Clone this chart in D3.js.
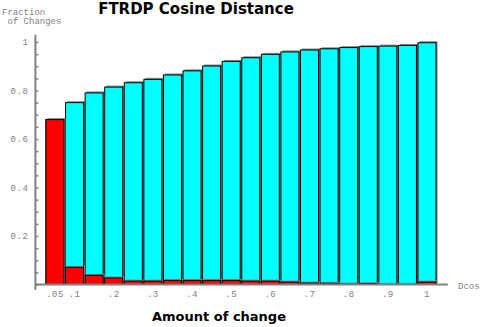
<!DOCTYPE html>
<html>
<head>
<meta charset="utf-8">
<script src="https://cdn.jsdelivr.net/npm/d3@7"></script>
<style>
  html, body { margin: 0; padding: 0; background: #fff; }
  svg { display: block; }
</style>
</head>
<body>
<svg id="chart"></svg>
<script>
// Data
const bins = [0.05, 0.10, 0.15, 0.20, 0.25, 0.30, 0.35, 0.40, 0.45, 0.50,
              0.55, 0.60, 0.65, 0.70, 0.75, 0.80, 0.85, 0.90, 0.95, 1.00]
const cumulative = [0.68, 0.75, 0.79, 0.814, 0.832, 0.846, 0.864, 0.881, 0.901, 0.92,
                    0.935, 0.949, 0.959, 0.967, 0.972, 0.977, 0.981, 0.983, 0.986, 0.997]
const perBin = [0.68, 0.071, 0.038, 0.027, 0.014, 0.014, 0.017, 0.017, 0.017, 0.017,
                0.014, 0.014, 0.010, 0.006, 0.005, 0.002, 0.004, 0.001, 0.001, 0.010]
const xTicks = [0.05, 0.1, 0.2, 0.3, 0.4, 0.5, 0.6, 0.7, 0.8, 0.9, 1]
const xTickLabels = [".05", ".1", ".2", ".3", ".4", ".5", ".6", ".7", ".8", ".9", "1"]
const yTicks = [0.2, 0.4, 0.6, 0.8, 1]
const yTickLabels = ["0.2", "0.4", "0.6", "0.8", "1"]

const width = 480
const height = 327
const mono = "'Liberation Mono', 'DejaVu Sans Mono', monospace"
const sans = "'DejaVu Sans', sans-serif"
const axisGrey = "#808080"

const svg = d3.select("#chart")
  .attr("width", width)
  .attr("height", height)

const x = d3.scaleLinear().domain([0, 1]).range([35.4, 427])
const y = d3.scaleLinear().domain([0, 1]).range([284.5, 42])
const barW = x(0.046) - x(0)

const rows = bins.map((b, i) => ({ bin: b, total: cumulative[i], part: perBin[i] }))

// Bars: grey shadow behind, cyan cumulative, red per-bin on top
function drawBars(key, fill) {
  const g = svg.append("g")
  g.selectAll("rect.shadow")
    .data(rows)
    .join("rect")
    .attr("class", "shadow")
    .attr("x", d => x(d.bin) - barW / 2 + 1.5)
    .attr("y", d => y(d[key]) - 1.5)
    .attr("width", barW)
    .attr("height", d => y(0) - y(d[key]))
    .attr("fill", "#8a8a8a")
  g.selectAll("rect.bar")
    .data(rows)
    .join("rect")
    .attr("class", "bar")
    .attr("x", d => x(d.bin) - barW / 2)
    .attr("y", d => y(d[key]))
    .attr("width", barW)
    .attr("height", d => y(0) - y(d[key]))
    .attr("fill", fill)
    .attr("stroke", "#000")
    .attr("stroke-width", 1)
}
drawBars("total", "#00ffff")
drawBars("part", "#ff0000")

// Y axis
const yAxis = svg.append("g")
  .attr("transform", `translate(${x(0)}, 0)`)
  .call(d3.axisRight(y)
    .tickValues(d3.range(0, 1.001, 0.05))
    .tickSize(3)
    .tickFormat(""))
yAxis.select(".domain").remove()
yAxis.selectAll(".tick line").attr("stroke", axisGrey).attr("stroke-width", 1.5)
yAxis.append("line")
  .attr("y1", y(1.03)).attr("y2", y(-0.022))
  .attr("stroke", axisGrey).attr("stroke-width", 2)

svg.append("g")
  .selectAll("text")
  .data(yTicks)
  .join("text")
  .attr("x", x(0) - 7)
  .attr("y", d => y(d) + 3)
  .attr("text-anchor", "end")
  .attr("font-family", mono)
  .attr("font-size", 9)
  .attr("letter-spacing", 0.6)
  .attr("fill", axisGrey)
  .text((d, i) => yTickLabels[i])

// X axis
svg.append("line")
  .attr("x1", x(0)).attr("x2", x(1.053))
  .attr("y1", y(0)).attr("y2", y(0))
  .attr("stroke", axisGrey).attr("stroke-width", 2)

svg.append("g")
  .selectAll("text")
  .data(xTicks)
  .join("text")
  .attr("x", d => x(d))
  .attr("y", y(0) + 12.5)
  .attr("text-anchor", "middle")
  .attr("font-family", mono)
  .attr("font-size", 9)
  .attr("letter-spacing", 0.5)
  .attr("fill", axisGrey)
  .text((d, i) => xTickLabels[i])

svg.append("text")
  .attr("x", 458).attr("y", y(0) + 4)
  .attr("font-family", mono)
  .attr("font-size", 9)
  .attr("fill", axisGrey)
  .text("Dcos")

// Y axis title
svg.append("text")
  .attr("font-family", mono)
  .attr("font-size", 9)
  .attr("fill", axisGrey)
  .call(t => t.append("tspan").attr("x", 2).attr("y", 15).text("Fraction"))
  .call(t => t.append("tspan").attr("x", 2).attr("y", 23.5).attr("xml:space", "preserve").text(" of Changes"))

// Titles
svg.append("text")
  .attr("x", 196).attr("y", 14)
  .attr("text-anchor", "middle")
  .attr("font-family", sans)
  .attr("font-weight", "bold")
  .attr("font-size", 15)
  .text("FTRDP Cosine Distance")

svg.append("text")
  .attr("x", 219).attr("y", 321)
  .attr("text-anchor", "middle")
  .attr("font-family", sans)
  .attr("font-weight", "bold")
  .attr("font-size", 13)
  .text("Amount of change")
</script>
</body>
</html>
